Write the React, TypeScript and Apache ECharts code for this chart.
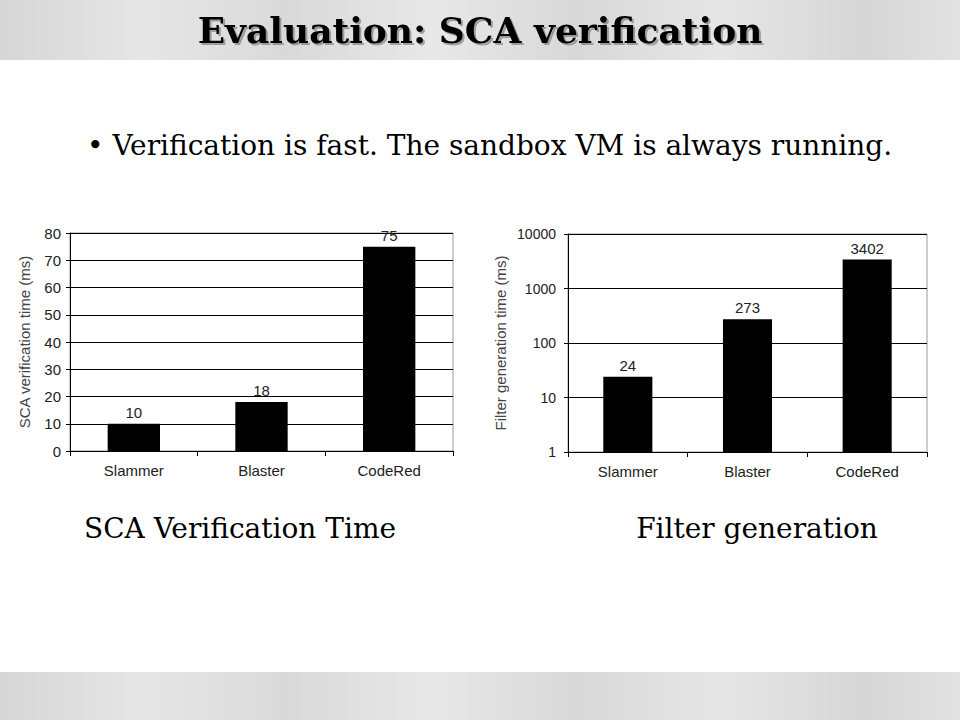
import React, { useEffect, useRef } from "react";
import * as echarts from "echarts";

const categories = ["Slammer", "Blaster", "CodeRed"];
const scaTimes = [10, 18, 75];
const filterTimes = [24, 273, 3402];

const titleText = "Evaluation: SCA verification";
const bulletText = "• Verification is fast. The sandbox VM is always running.";
const leftCaption = "SCA Verification Time";
const rightCaption = "Filter generation";
const leftAxisName = "SCA verification time (ms)";
const rightAxisName = "Filter generation time (ms)";

const SANS = "Liberation Sans, Arial, sans-serif";
const SERIF = "DejaVu Serif, serif";

export default function App() {
  const ref = useRef<HTMLDivElement>(null);
  useEffect(() => {
    if (!ref.current) return;
    const chart = echarts.init(ref.current, null, { renderer: "svg" });
    const marble = (y: number, h: number) => ({
      type: "rect",
      shape: { x: 0, y, width: 960, height: h },
      style: {
        fill: new echarts.graphic.LinearGradient(0, 0, 1, 0, [
          { offset: 0, color: "#d6d6d6" },
          { offset: 0.15, color: "#e6e6e6" },
          { offset: 0.3, color: "#d9d9d9" },
          { offset: 0.45, color: "#e8e8e8" },
          { offset: 0.6, color: "#d8d8d8" },
          { offset: 0.75, color: "#e6e6e6" },
          { offset: 0.9, color: "#d6d6d6" },
          { offset: 1, color: "#e2e2e2" },
        ]),
      },
      silent: true,
      z: 0,
    });
    const xAxisCommon = {
      type: "category",
      data: categories,
      axisLine: { lineStyle: { color: "#000", width: 1 } },
      axisTick: { show: true, alignWithLabel: false, length: 5, lineStyle: { color: "#000" } },
      axisLabel: { fontFamily: SANS, fontSize: 15, color: "#222", margin: 12 },
    };
    const yAxisCommon = {
      axisLine: { show: true, lineStyle: { color: "#000", width: 1 } },
      axisTick: { show: true, length: 4, lineStyle: { color: "#000" } },
      splitLine: { show: true, lineStyle: { color: "#000", width: 1 } },
      nameLocation: "middle",
      nameTextStyle: { fontFamily: SANS, fontSize: 15, color: "#444" },
    };
    const barLabel = { show: true, position: "top", fontFamily: SANS, fontSize: 15, color: "#222", distance: 4 };
    chart.setOption({
      animation: false,
      backgroundColor: "#fff",
      graphic: [
        marble(0, 60),
        marble(672, 48),
        {
          type: "text",
          x: 480,
          y: 30,
          style: {
            text: titleText,
            font: `bold 36px ${SERIF}`,
            fill: "#000",
            align: "center",
            verticalAlign: "middle",
            textShadowColor: "rgba(0,0,0,0.3)",
            textShadowOffsetX: 2,
            textShadowOffsetY: 2,
            textShadowBlur: 1,
          },
          z: 10,
        },
        {
          type: "text",
          x: 87,
          y: 145,
          style: { text: bulletText, font: `28px ${SERIF}`, fill: "#000", align: "left", verticalAlign: "middle" },
        },
        {
          type: "text",
          x: 240,
          y: 528,
          style: { text: leftCaption, font: `28px ${SERIF}`, fill: "#000", align: "center", verticalAlign: "middle" },
        },
        {
          type: "text",
          x: 757,
          y: 528,
          style: { text: rightCaption, font: `28px ${SERIF}`, fill: "#000", align: "center", verticalAlign: "middle" },
        },
      ],
      grid: [
        { left: 70, right: 507, top: 233, bottom: 269, show: true, borderColor: "#999", borderWidth: 1, backgroundColor: "transparent" },
        { left: 568, right: 33, top: 234, bottom: 268, show: true, borderColor: "#999", borderWidth: 1, backgroundColor: "transparent" },
      ],
      xAxis: [
        { ...xAxisCommon, gridIndex: 0 },
        { ...xAxisCommon, gridIndex: 1 },
      ],
      yAxis: [
        {
          ...yAxisCommon,
          gridIndex: 0,
          type: "value",
          min: 0,
          max: 80,
          interval: 10,
          name: leftAxisName,
          nameGap: 38,
          axisLabel: { fontFamily: SANS, fontSize: 15, color: "#222", margin: 9 },
        },
        {
          ...yAxisCommon,
          gridIndex: 1,
          type: "log",
          logBase: 10,
          min: 1,
          max: 10000,
          name: rightAxisName,
          nameGap: 60,
          axisLabel: { fontFamily: SANS, fontSize: 14, color: "#222", margin: 12, formatter: (v: number) => String(Math.round(v)) },
        },
      ],
      series: [
        { type: "bar", xAxisIndex: 0, yAxisIndex: 0, data: scaTimes, barWidth: "41%", itemStyle: { color: "#000" }, label: barLabel },
        { type: "bar", xAxisIndex: 1, yAxisIndex: 1, data: filterTimes, barWidth: "41%", itemStyle: { color: "#000" }, label: barLabel },
      ],
    });
    return () => chart.dispose();
  }, []);
  return <div ref={ref} style={{ position: "fixed", left: 0, top: 0, width: 960, height: 720 }} />;
}
